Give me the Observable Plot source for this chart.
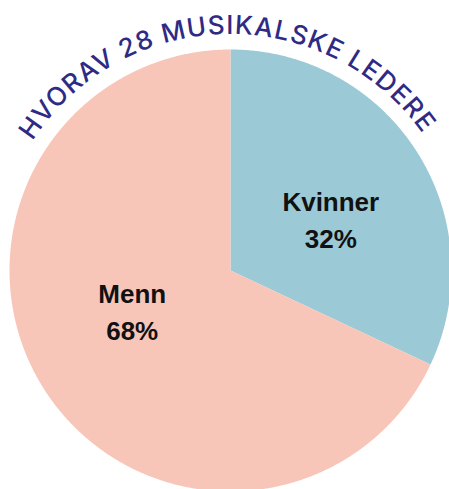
<!DOCTYPE html>
<html><head><meta charset="utf-8">
<script src="https://cdn.jsdelivr.net/npm/d3@7"></script>
<script src="https://cdn.jsdelivr.net/npm/@observablehq/plot@0.6"></script>
<style>body{margin:0;background:#fff} svg{display:block}</style>
</head><body><div id="chart"></div>
<script>
const categories = ["Kvinner", "Menn"];
const shares = [32, 68];
const colors = ["#9bc9d6", "#f8c6b9"];
const title = "HVORAV 28 MUSIKALSKE LEDERE";

const W = 449, H = 489, cx = 230, cy = 270, R = 221, LR = 0.5 * R, TR = 236;

const data = categories.map((c, i) => ({name: c, share: shares[i]}));
const arcs = d3.pie().sort(null).value(d => d.share)(data);
const pts = [];
arcs.forEach(a => {
  const n = Math.max(2, Math.ceil((a.endAngle - a.startAngle) / 0.005));
  pts.push({name: a.data.name, px: 0, py: 0});
  for (let k = 0; k <= n; k++) {
    const t = a.startAngle + (a.endAngle - a.startAngle) * k / n;
    pts.push({name: a.data.name, px: R * Math.sin(t), py: R * Math.cos(t)});
  }
});
const labels = arcs.map(a => {
  const m = (a.startAngle + a.endAngle) / 2;
  return {name: a.data.name, text: `${a.data.name}\n${a.data.share}%`, lx: LR * Math.sin(m), ly: LR * Math.cos(m)};
});

const plot = Plot.plot({
  width: W, height: H,
  margin: 0,
  x: {domain: [-cx, W - cx], axis: null},
  y: {domain: [-(H - cy), cy], axis: null},
  color: {domain: categories, range: colors},
  marks: [
    Plot.line(pts, {x: "px", y: "py", z: "name", fill: "name", stroke: null, curve: "linear-closed"}),
    Plot.text(labels.filter(d => d.name === "Kvinner"), {x: "lx", y: "ly", text: "text", dx: 7, dy: 6, fontSize: 26, fontWeight: "bold", lineHeight: 1.42, fill: "#111", fontFamily: "Liberation Sans, Arial, sans-serif"}),
    Plot.text(labels.filter(d => d.name === "Menn"), {x: "lx", y: "ly", text: "text", dx: -5, dy: -20, fontSize: 26, fontWeight: "bold", lineHeight: 1.42, fill: "#111", fontFamily: "Liberation Sans, Arial, sans-serif"})
  ]
});
document.getElementById("chart").appendChild(plot);

// curved title along an arc above the pie
const svg = d3.select(plot);
const a0 = -101 * Math.PI / 180, a1 = 99 * Math.PI / 180;
const sx = cx + TR * Math.sin(a0), sy = cy - TR * Math.cos(a0);
const ex = cx + TR * Math.sin(a1), ey = cy - TR * Math.cos(a1);
svg.append("defs").append("path").attr("id", "titleArc")
  .attr("d", `M${sx},${sy} A${TR},${TR} 0 1 1 ${ex},${ey}`);
svg.append("text")
  .attr("font-family", "Inter, 'Open Sans', sans-serif")
  .attr("font-size", 26)
  .attr("font-weight", 500)
  .attr("letter-spacing", 1.2)
  .attr("fill", "#2f2b84")
  .append("textPath")
  .attr("href", "#titleArc")
  .attr("startOffset", "50%")
  .attr("text-anchor", "middle")
  .text(title);
</script>
</body></html>
